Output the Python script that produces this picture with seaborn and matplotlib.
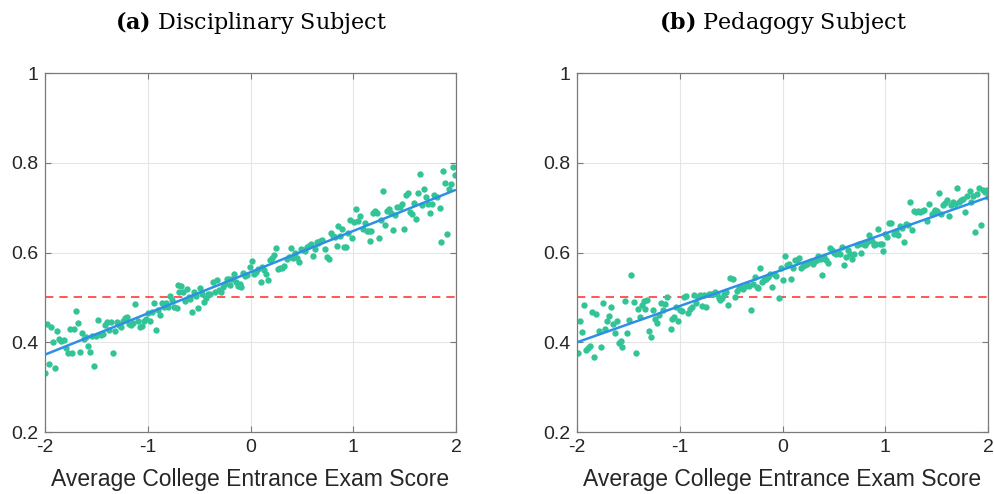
import numpy as np
import pandas as pd
import seaborn as sns
import matplotlib.pyplot as plt
from matplotlib.ticker import FixedLocator, FixedFormatter

# ---------------- data ----------------
x_a = [-2.00, -1.98, -1.96, -1.94, -1.92, -1.90, -1.88, -1.86, -1.84, -1.82,
       -1.80, -1.78, -1.76, -1.74, -1.72, -1.70, -1.68, -1.66, -1.64, -1.62,
       -1.60, -1.58, -1.56, -1.54, -1.52, -1.50, -1.48, -1.46, -1.44, -1.42,
       -1.40, -1.38, -1.36, -1.34, -1.32, -1.30, -1.28, -1.26, -1.24, -1.22,
       -1.20, -1.18, -1.16, -1.14, -1.12, -1.10, -1.08, -1.06, -1.04, -1.02,
       -1.00, -0.98, -0.96, -0.94, -0.92, -0.90, -0.88, -0.86, -0.84, -0.82,
       -0.80, -0.78, -0.76, -0.74, -0.72, -0.71, -0.70, -0.68, -0.66, -0.64,
       -0.62, -0.60, -0.59, -0.57, -0.55, -0.53, -0.51, -0.49, -0.47, -0.45,
       -0.43, -0.41, -0.39, -0.37, -0.35, -0.33, -0.31, -0.29, -0.27, -0.25,
       -0.23, -0.21, -0.20, -0.18, -0.16, -0.14, -0.12, -0.10, -0.09, -0.07,
       -0.05, -0.03, -0.01, 0.01, 0.03, 0.05, 0.07, 0.10, 0.11, 0.13,
       0.15, 0.17, 0.19, 0.21, 0.23, 0.25, 0.27, 0.29, 0.31, 0.33,
       0.35, 0.37, 0.39, 0.41, 0.43, 0.45, 0.47, 0.49, 0.51, 0.53,
       0.55, 0.57, 0.59, 0.61, 0.63, 0.65, 0.66, 0.68, 0.70, 0.72,
       0.74, 0.76, 0.78, 0.80, 0.82, 0.84, 0.85, 0.87, 0.89, 0.91,
       0.93, 0.95, 0.97, 0.99, 1.01, 1.03, 1.05, 1.07, 1.09, 1.11,
       1.13, 1.15, 1.16, 1.17, 1.19, 1.21, 1.23, 1.25, 1.27, 1.29,
       1.31, 1.33, 1.35, 1.37, 1.39, 1.41, 1.43, 1.45, 1.47, 1.49,
       1.51, 1.53, 1.55, 1.57, 1.59, 1.61, 1.63, 1.65, 1.67, 1.69,
       1.71, 1.73, 1.75, 1.77, 1.79, 1.81, 1.84, 1.85, 1.87, 1.89,
       1.91, 1.93, 1.95, 1.97, 1.99]
y_a = [0.331, 0.441, 0.352, 0.433, 0.401, 0.343, 0.424, 0.407, 0.403, 0.405,
       0.387, 0.377, 0.430, 0.377, 0.430, 0.469, 0.444, 0.378, 0.421, 0.408,
       0.412, 0.391, 0.378, 0.414, 0.346, 0.414, 0.450, 0.416, 0.418, 0.439,
       0.445, 0.427, 0.445, 0.377, 0.424, 0.445, 0.438, 0.433, 0.448, 0.454,
       0.457, 0.441, 0.438, 0.444, 0.486, 0.448, 0.435, 0.437, 0.448, 0.451,
       0.466, 0.448, 0.468, 0.487, 0.427, 0.472, 0.461, 0.487, 0.478, 0.487,
       0.478, 0.503, 0.494, 0.479, 0.476, 0.528, 0.511, 0.526, 0.511, 0.492,
       0.519, 0.501, 0.497, 0.467, 0.513, 0.502, 0.477, 0.522, 0.508, 0.489,
       0.499, 0.507, 0.507, 0.534, 0.511, 0.538, 0.516, 0.511, 0.523, 0.530,
       0.541, 0.542, 0.528, 0.542, 0.553, 0.534, 0.526, 0.530, 0.523, 0.554,
       0.547, 0.550, 0.568, 0.580, 0.553, 0.557, 0.563, 0.534, 0.568, 0.560,
       0.553, 0.538, 0.583, 0.588, 0.594, 0.611, 0.563, 0.566, 0.565, 0.571,
       0.586, 0.590, 0.609, 0.588, 0.599, 0.587, 0.578, 0.608, 0.606, 0.603,
       0.612, 0.615, 0.618, 0.592, 0.608, 0.624, 0.621, 0.626, 0.628, 0.607,
       0.591, 0.586, 0.644, 0.637, 0.634, 0.614, 0.659, 0.637, 0.653, 0.612,
       0.613, 0.643, 0.672, 0.632, 0.668, 0.696, 0.671, 0.681, 0.653, 0.666,
       0.649, 0.647, 0.625, 0.649, 0.689, 0.693, 0.689, 0.632, 0.672, 0.738,
       0.662, 0.692, 0.698, 0.687, 0.650, 0.684, 0.701, 0.702, 0.707, 0.652,
       0.729, 0.733, 0.690, 0.686, 0.711, 0.675, 0.733, 0.775, 0.705, 0.742,
       0.723, 0.707, 0.689, 0.708, 0.729, 0.724, 0.699, 0.623, 0.782, 0.756,
       0.641, 0.742, 0.753, 0.790, 0.772]

x_b = [-1.99, -1.97, -1.95, -1.93, -1.91, -1.89, -1.87, -1.85, -1.83, -1.82,
       -1.79, -1.77, -1.75, -1.73, -1.71, -1.69, -1.67, -1.65, -1.63, -1.61,
       -1.59, -1.57, -1.56, -1.53, -1.51, -1.49, -1.47, -1.45, -1.43, -1.41,
       -1.39, -1.37, -1.35, -1.34, -1.32, -1.30, -1.28, -1.26, -1.24, -1.22,
       -1.20, -1.18, -1.16, -1.14, -1.12, -1.09, -1.08, -1.06, -1.04, -1.02,
       -1.00, -0.98, -0.96, -0.94, -0.92, -0.90, -0.88, -0.86, -0.84, -0.82,
       -0.80, -0.78, -0.76, -0.74, -0.72, -0.70, -0.68, -0.66, -0.64, -0.62,
       -0.61, -0.59, -0.57, -0.55, -0.53, -0.51, -0.48, -0.46, -0.44, -0.42,
       -0.40, -0.38, -0.36, -0.35, -0.33, -0.31, -0.29, -0.27, -0.25, -0.24,
       -0.22, -0.20, -0.18, -0.16, -0.14, -0.12, -0.10, -0.08, -0.06, -0.03,
       -0.01, 0.00, 0.02, 0.04, 0.06, 0.08, 0.10, 0.12, 0.14, 0.16,
       0.18, 0.20, 0.22, 0.24, 0.26, 0.28, 0.30, 0.32, 0.34, 0.35,
       0.37, 0.38, 0.40, 0.42, 0.44, 0.46, 0.48, 0.50, 0.52, 0.54,
       0.56, 0.58, 0.60, 0.62, 0.64, 0.66, 0.68, 0.70, 0.72, 0.74,
       0.76, 0.78, 0.80, 0.82, 0.84, 0.85, 0.87, 0.89, 0.91, 0.93,
       0.95, 0.97, 0.98, 1.00, 1.02, 1.04, 1.06, 1.08, 1.10, 1.12,
       1.14, 1.16, 1.18, 1.20, 1.22, 1.24, 1.26, 1.28, 1.30, 1.32,
       1.34, 1.36, 1.38, 1.41, 1.43, 1.45, 1.47, 1.48, 1.50, 1.52,
       1.54, 1.56, 1.58, 1.60, 1.62, 1.64, 1.66, 1.68, 1.70, 1.72,
       1.74, 1.76, 1.78, 1.80, 1.82, 1.83, 1.85, 1.87, 1.89, 1.91,
       1.93, 1.95, 1.97, 1.99, 2.00]
y_b = [0.375, 0.448, 0.423, 0.482, 0.383, 0.387, 0.392, 0.467, 0.368, 0.463,
       0.424, 0.390, 0.488, 0.429, 0.448, 0.458, 0.479, 0.441, 0.420, 0.448,
       0.399, 0.403, 0.390, 0.491, 0.420, 0.450, 0.549, 0.490, 0.375, 0.475,
       0.457, 0.482, 0.491, 0.473, 0.494, 0.426, 0.411, 0.472, 0.451, 0.442,
       0.460, 0.488, 0.472, 0.485, 0.501, 0.429, 0.452, 0.457, 0.479, 0.448,
       0.472, 0.470, 0.500, 0.503, 0.466, 0.475, 0.479, 0.506, 0.487, 0.500,
       0.505, 0.481, 0.506, 0.478, 0.507, 0.507, 0.508, 0.511, 0.507, 0.499,
       0.495, 0.499, 0.508, 0.513, 0.483, 0.544, 0.541, 0.501, 0.514, 0.522,
       0.523, 0.519, 0.526, 0.530, 0.525, 0.471, 0.530, 0.545, 0.523, 0.520,
       0.566, 0.534, 0.538, 0.541, 0.545, 0.553, 0.523, 0.551, 0.548, 0.499,
       0.565, 0.538, 0.592, 0.572, 0.575, 0.542, 0.565, 0.583, 0.584, 0.587,
       0.565, 0.569, 0.572, 0.575, 0.578, 0.580, 0.574, 0.581, 0.584, 0.593,
       0.586, 0.550, 0.590, 0.583, 0.577, 0.609, 0.606, 0.600, 0.596, 0.602,
       0.597, 0.612, 0.572, 0.590, 0.605, 0.596, 0.586, 0.596, 0.617, 0.620,
       0.599, 0.620, 0.617, 0.623, 0.639, 0.627, 0.626, 0.617, 0.620, 0.652,
       0.620, 0.618, 0.603, 0.641, 0.635, 0.666, 0.666, 0.642, 0.648, 0.639,
       0.658, 0.654, 0.624, 0.663, 0.661, 0.712, 0.651, 0.692, 0.691, 0.692,
       0.690, 0.692, 0.695, 0.670, 0.707, 0.685, 0.691, 0.695, 0.692, 0.733,
       0.686, 0.706, 0.710, 0.716, 0.681, 0.706, 0.712, 0.709, 0.743, 0.713,
       0.716, 0.719, 0.690, 0.725, 0.736, 0.713, 0.725, 0.646, 0.730, 0.744,
       0.661, 0.739, 0.734, 0.740, 0.724]

titles = ["(a)", "(b)"]
subtitles = ["Disciplinary Subject", "Pedagogy Subject"]
xlabel = "Average College Entrance Exam Score"
x_ticks = [-2, -1, 0, 1, 2]
x_ticklabels = ["-2", "-1", "0", "1", "2"]
y_ticks = [0.2, 0.4, 0.6, 0.8, 1.0]
y_ticklabels = ["0.2", "0.4", "0.6", "0.8", "1"]
threshold = 0.5

# ---------------- style ----------------
GREEN = "#32c497"
BLUE = "#2e8fe6"
RED = "#ff3b3b"
SPINE = "#7a7a7a"
GRID = "#e5e5e5"
TXT = "#262626"

sns.set_theme(style="white")
plt.rcParams['font.family'] = ['Liberation Sans', 'DejaVu Sans']
plt.rcParams['axes.unicode_minus'] = False
plt.rcParams['mathtext.fontset'] = 'custom'
plt.rcParams['mathtext.bf'] = 'DejaVu Serif:bold'
plt.rcParams['mathtext.rm'] = 'DejaVu Serif'

fig = plt.figure(figsize=(9.94, 4.94), dpi=100)
ax1 = fig.add_axes([0.0453, 0.1255, 0.4135, 0.7267])
ax2 = fig.add_axes([0.5805, 0.1255, 0.4135, 0.7267])

datasets = [(x_a, y_a), (x_b, y_b)]
for ax, (xs, ys), t, st in zip([ax1, ax2], datasets, titles, subtitles):
    df = pd.DataFrame({"score": xs, "share": ys})
    ax.axhline(threshold, color=RED, ls=(0, (5, 3.6)), lw=1.2, zorder=1.5)
    sns.regplot(data=df, x="score", y="share", ax=ax, ci=None, truncate=True,
                scatter_kws=dict(s=21, color=GREEN, linewidths=0, alpha=1, zorder=2),
                line_kws=dict(color=BLUE, lw=1.8, zorder=3))
    ax.set_xlim(-2, 2)
    ax.set_ylim(0.2, 1.0)
    ax.xaxis.set_major_locator(FixedLocator(x_ticks))
    ax.xaxis.set_major_formatter(FixedFormatter(x_ticklabels))
    ax.yaxis.set_major_locator(FixedLocator(y_ticks))
    ax.yaxis.set_major_formatter(FixedFormatter(y_ticklabels))
    ax.grid(True, color=GRID, lw=0.8)
    ax.set_axisbelow(True)
    for s in ax.spines.values():
        s.set_color(SPINE)
        s.set_linewidth(0.9)
        s.set_visible(True)
    ax.tick_params(axis='both', direction='in', length=4, width=0.8, color=SPINE,
                   labelsize=14, labelcolor=TXT, top=True, right=True,
                   bottom=True, left=True, pad=5)
    ax.set_xlabel(xlabel, fontsize=16.5, color=TXT, labelpad=9)
    ax.set_ylabel("")
    ax.set_title(r"$\mathbf{" + t + r"}$ " + st, fontsize=16,
                 fontfamily='DejaVu Serif', color='black', pad=32)

fig.savefig("out.png", dpi=100)
